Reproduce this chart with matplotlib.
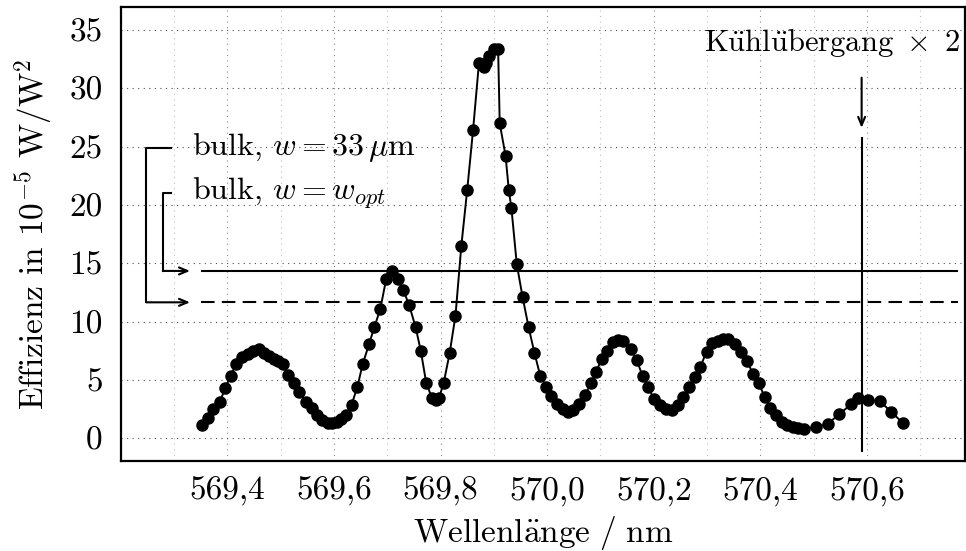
import numpy as np
import matplotlib
matplotlib.use("Agg")
import matplotlib.pyplot as plt
from matplotlib.ticker import FixedLocator, FuncFormatter

plt.rcParams['font.family'] = 'cmr10'
plt.rcParams['mathtext.fontset'] = 'cm'
plt.rcParams['axes.unicode_minus'] = False
plt.rcParams['axes.formatter.use_mathtext'] = True

# measured efficiency curve
wavelength = [
    569.353, 569.364, 569.374, 569.386, 569.396, 569.406, 569.417, 569.428, 569.439, 569.448,
    569.459, 569.469, 569.478, 569.487, 569.495, 569.504, 569.514, 569.525, 569.534, 569.547,
    569.558, 569.569, 569.578, 569.588, 569.597, 569.606, 569.614, 569.623, 569.633, 569.644,
    569.654, 569.666, 569.676, 569.687, 569.698, 569.708, 569.720, 569.730, 569.741, 569.753,
    569.763, 569.773, 569.784, 569.792, 569.797, 569.806, 569.817, 569.828, 569.839, 569.850,
    569.861, 569.872, 569.881, 569.885, 569.890, 569.900, 569.908, 569.911, 569.922, 569.928,
    569.933, 569.943, 569.954, 569.965, 569.976, 569.987, 569.998, 570.008, 570.018, 570.029,
    570.039, 570.049, 570.060, 570.071, 570.083, 570.092, 570.102, 570.113, 570.124, 570.133,
    570.143, 570.157, 570.168, 570.179, 570.190, 570.200, 570.212, 570.223, 570.234, 570.245,
    570.255, 570.266, 570.277, 570.287, 570.299, 570.309, 570.320, 570.330, 570.340, 570.352,
    570.364, 570.375, 570.386, 570.397, 570.408, 570.419, 570.429, 570.440, 570.450, 570.461,
    570.470, 570.481, 570.504, 570.526, 570.548, 570.570, 570.584, 570.602, 570.624, 570.646,
    570.668,
]
efficiency = [
    1.14, 1.77, 2.51, 3.14, 4.28, 5.36, 6.37, 6.99, 7.20, 7.45,
    7.63, 7.34, 7.05, 6.80, 6.62, 6.34, 5.42, 4.76, 3.99, 3.14,
    2.62, 2.00, 1.57, 1.34, 1.29, 1.42, 1.63, 2.02, 2.85, 4.42,
    6.37, 8.08, 9.56, 11.08, 13.65, 14.34, 13.65, 12.71, 11.42, 9.56,
    7.48, 4.77, 3.43, 3.28, 3.43, 4.77, 7.28, 10.51, 16.50, 21.28,
    26.42, 32.13, 31.79, 32.13, 32.76, 33.36, 33.36, 26.99, 24.19, 21.28,
    19.71, 14.91, 12.08, 9.56, 7.34, 5.36, 4.42, 3.62, 2.94, 2.48,
    2.28, 2.42, 2.91, 3.71, 4.77, 5.71, 6.77, 7.51, 8.28, 8.42,
    8.34, 7.63, 6.71, 5.34, 4.37, 3.37, 2.85, 2.51, 2.43, 2.85,
    3.56, 4.42, 5.28, 6.08, 7.42, 8.19, 8.36, 8.48, 8.51, 8.08,
    7.42, 6.65, 5.51, 4.71, 3.56, 2.57, 2.00, 1.42, 1.14, 0.94,
    0.86, 0.80, 0.94, 1.23, 2.06, 2.91, 3.48, 3.28, 3.20, 2.23,
    1.29,
]

# bulk reference levels
bulk_33um = 11.65
bulk_opt = 14.34
bulk_range = (569.35, 570.77)

# cooling transition
cool_wl = 570.59

x_ticks = [569.4, 569.6, 569.8, 570.0, 570.2, 570.4, 570.6]
x_minor = [569.3, 569.5, 569.7, 569.9, 570.1, 570.3, 570.5, 570.7]
y_ticks = [0, 5, 10, 15, 20, 25, 30, 35]

FS = 24
LW = 1.5

fig = plt.figure(figsize=(9.66, 5.51), dpi=100)
ax = fig.add_axes([0.125, 0.1633, 0.874, 0.8234])

ax.plot(wavelength, efficiency, '-o', color='black', lw=1.4, ms=8, zorder=3)

ax.hlines(bulk_opt, *bulk_range, colors='black', lw=LW, zorder=2)
ax.hlines(bulk_33um, *bulk_range, colors='black', lw=LW, linestyles=(0, (6.5, 3.5)), zorder=2)

ax.vlines(cool_wl, -1.15, 25.8, colors='black', lw=LW, zorder=2)
arrow = dict(arrowstyle='->,head_length=0.6,head_width=0.25', lw=LW, color='black',
             shrinkA=0, shrinkB=0)
ax.annotate('', xy=(cool_wl, 26.6), xytext=(cool_wl, 30.9), arrowprops=arrow)
ax.text(570.775, 33.9, r'$\mathrm{K\ddot{u}hl\ddot{u}bergang}\ \times\ 2$',
        ha='right', va='center', fontsize=22)

# labels with bracket arrows pointing at the bulk lines
ax.text(569.334, 24.9, r'bulk, $w = 33\,\mu$m', ha='left', va='center', fontsize=23)
ax.text(569.334, 21.0, r'bulk, $w = w_{opt}$', ha='left', va='center', fontsize=23)
ax.plot([569.295, 569.248, 569.248], [24.87, 24.87, bulk_33um], color='black', lw=LW)
ax.annotate('', xy=(569.33, bulk_33um), xytext=(569.248, bulk_33um), arrowprops=arrow)
ax.plot([569.295, 569.279, 569.279], [21.02, 21.02, bulk_opt], color='black', lw=LW)
ax.annotate('', xy=(569.33, bulk_opt), xytext=(569.279, bulk_opt), arrowprops=arrow)

ax.set_xlim(569.2, 570.784)
ax.set_ylim(-1.95, 36.93)
ax.xaxis.set_major_locator(FixedLocator(x_ticks))
ax.xaxis.set_minor_locator(FixedLocator(x_minor))
ax.yaxis.set_major_locator(FixedLocator(y_ticks))
ax.xaxis.set_major_formatter(FuncFormatter(lambda v, p: f'{v:.1f}'.replace('.', ',')))
ax.yaxis.set_major_formatter(FuncFormatter(lambda v, p: f'{v:.0f}'))
ax.tick_params(which='both', length=0, labelsize=FS)
ax.tick_params(axis='x', pad=11)
ax.tick_params(axis='y', pad=13)

ax.grid(axis='y', which='major', linestyle=(0, (1, 4)), color='0.3', lw=0.8)
ax.grid(axis='x', which='major', linestyle=(0, (1, 4)), color='0.55', lw=0.8)
ax.grid(axis='x', which='minor', linestyle=(0, (1, 4)), color='0.75', lw=0.8)
ax.set_axisbelow(True)

for s in ax.spines.values():
    s.set_linewidth(1.6)

ax.set_xlabel(r'$\mathrm{Wellenl\ddot{a}nge\ /\ nm}$', fontsize=FS, labelpad=6)
ax.set_ylabel(r'Effizienz in $10^{-5}$ W/W$^2$', fontsize=FS, labelpad=10)

fig.savefig('out.png', dpi=100)
